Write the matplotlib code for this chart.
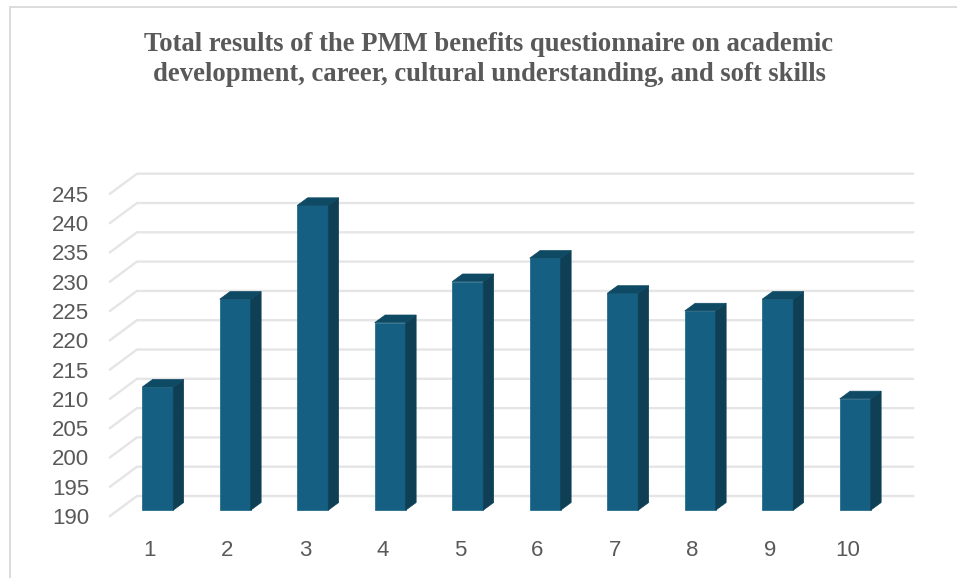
import matplotlib.pyplot as plt
from matplotlib.patches import Polygon

W, H = 957, 578
questions = [1, 2, 3, 4, 5, 6, 7, 8, 9, 10]
totals = [211, 226, 242, 222, 229, 233, 227, 224, 226, 209]
y_ticks = [190, 195, 200, 205, 210, 215, 220, 225, 230, 235, 240, 245]
title = ("Total results of the PMM benefits questionnaire on academic\n"
         "development, career, cultural understanding, and soft skills")

face = "#156082"
side = "#0e3f55"
top = "#0f4a64"
grid = "#e5e5e5"
text_col = "#595959"

fig = plt.figure(figsize=(W / 100, H / 100), dpi=100)

# border of the chart, cut by the image at the bottom
fig.add_artist(plt.Line2D([10 / W, 10 / W], [0, 1 - 6.5 / H], color="#dcdcdc", lw=1.4))
fig.add_artist(plt.Line2D([10 / W, 1], [1 - 6.5 / H, 1 - 6.5 / H], color="#dcdcdc", lw=1.4))

# axes is the front plane of the fake 3d box
ax = fig.add_axes([110 / W, 1 - 516 / H, 803 / W, (516 - 193.7) / H])
ax.set_xlim(0.484, 10.845)
ax.set_ylim(190, 245)
for s in ax.spines.values():
    s.set_visible(False)
ax.set_xticks(questions)
ax.set_yticks(y_ticks)
ax.tick_params(length=0, colors=text_col, labelsize=16)
ax.tick_params(axis="y", pad=15)
ax.tick_params(axis="x", pad=17)
for lab in ax.get_xticklabels() + ax.get_yticklabels():
    lab.set_family("Liberation Sans")

# depth offsets in data units
wall_dx, wall_dy = 0.348, 3.41
bar_dx, bar_dy = 0.1, 1.0
depth_dx, depth_dy = 0.134, 1.3
bar_w = 0.4

for v in y_ticks:
    ax.plot([0.484, 0.484 + wall_dx, 10.845], [v, v + wall_dy, v + wall_dy],
            color=grid, lw=1.7, clip_on=False, zorder=1, solid_joinstyle="round")

xs = [q + bar_dx for q in questions]
bottoms = [190 + bar_dy] * len(totals)
heights = [t - 190 for t in totals]
ax.bar(xs, heights, bar_w, bottom=bottoms, color=face, edgecolor=face, lw=0.5,
       clip_on=False, zorder=3)

for x, t in zip(xs, totals):
    l, r = x - bar_w / 2, x + bar_w / 2
    yb, yt = 190 + bar_dy, t + bar_dy
    ax.add_patch(Polygon([(r, yb), (r + depth_dx, yb + depth_dy),
                          (r + depth_dx, yt + depth_dy), (r, yt)],
                         facecolor=side, edgecolor=side, lw=0.5, clip_on=False, zorder=4))
    ax.add_patch(Polygon([(l, yt), (l + depth_dx, yt + depth_dy),
                          (r + depth_dx, yt + depth_dy), (r, yt)],
                         facecolor=top, edgecolor=top, lw=0.5, clip_on=False, zorder=4))

fig.text(489 / W, 1 - 59.5 / H, title, ha="center", va="center", family="Liberation Serif",
         weight="bold", size=19.2, color=text_col, linespacing=1.24)

fig.savefig("out.png", dpi=100)
